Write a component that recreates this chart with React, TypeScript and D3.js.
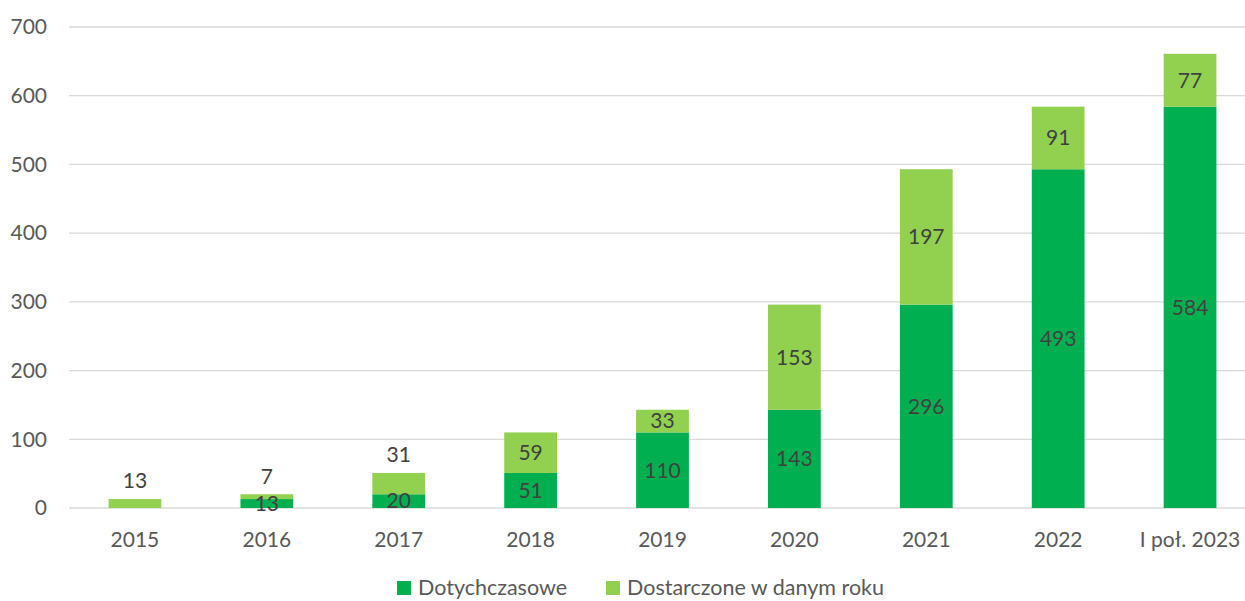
import React from "react";
import * as d3 from "d3";

const categories = ["2015", "2016", "2017", "2018", "2019", "2020", "2021", "2022", "I poł. 2023"];
const existing = [0, 13, 20, 51, 110, 143, 296, 493, 584];
const delivered = [13, 7, 31, 59, 33, 153, 197, 91, 77];
const deliveredLabelAbove = [true, true, true, false, false, false, false, false, false];
const yTicks = [0, 100, 200, 300, 400, 500, 600, 700];
const seriesNames = ["Dotychczasowe", "Dostarczone w danym roku"];
const colors = ["#00B050", "#92D050"];

const W = 1245;
const H = 601;
const FONT = "Lato, 'Open Sans', sans-serif";
const FS = 21;

export default function App() {
  const x = d3.scaleBand<string>().domain(categories).range([69, 1256]).paddingInner(0.6).paddingOuter(0.3);
  const y = d3.scaleLinear().domain([0, 700]).range([508, 27]);
  const bw = x.bandwidth();

  return (
    <svg width={W} height={H} style={{ position: "absolute", left: 0, top: 0, background: "#fff" }} fontFamily={FONT}>
      {yTicks.map((t) => (
        <g key={t}>
          <line x1={69} x2={W} y1={y(t)} y2={y(t)} stroke="#d9d9d9" strokeWidth={1.3} />
          <text x={47} y={y(t)} dy="0.35em" textAnchor="end" fontSize={FS} fill="#595959">{t}</text>
        </g>
      ))}
      {categories.map((c, i) => {
        const cx = (x(c) as number) + bw / 2;
        const e = existing[i];
        const d = delivered[i];
        const top = e + d;
        return (
          <g key={c}>
            {e > 0 && (
              <rect x={x(c)} width={bw} y={y(e)} height={y(0) - y(e)} fill={colors[0]} />
            )}
            <rect x={x(c)} width={bw} y={y(top)} height={y(e) - y(top)} fill={colors[1]} />
            {e > 0 && (
              <text x={cx} y={y(e / 2)} dy="0.35em" textAnchor="middle" fontSize={FS} fill="#404040">{e}</text>
            )}
            <text
              x={cx}
              y={deliveredLabelAbove[i] ? y(top) - 18 : y(e + d / 2)}
              dy="0.35em"
              textAnchor="middle"
              fontSize={FS}
              fill="#404040"
            >
              {d}
            </text>
            <text x={cx} y={540} dy="0.35em" textAnchor="middle" fontSize={FS} fill="#595959">{c}</text>
          </g>
        );
      })}
      <g>
        <rect x={397} y={581} width={14} height={14} fill={colors[0]} />
        <text x={418} y={587} dy="0.35em" fontSize={21.5} fill="#595959">{seriesNames[0]}</text>
        <rect x={606} y={581} width={14} height={14} fill={colors[1]} />
        <text x={627} y={587} dy="0.35em" fontSize={21.5} fill="#595959">{seriesNames[1]}</text>
      </g>
    </svg>
  );
}
